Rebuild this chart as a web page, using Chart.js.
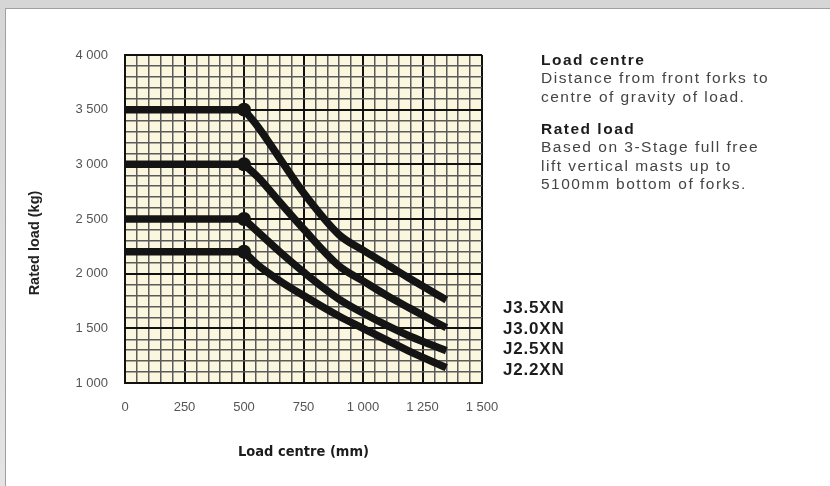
<!DOCTYPE html>
<html>
<head>
<meta charset="utf-8">
<script src="https://cdn.jsdelivr.net/npm/chart.js@4"></script>
<style>
  html, body { margin: 0; padding: 0; }
  body { width: 830px; height: 486px; position: relative; overflow: hidden;
         background: linear-gradient(#d6d6d6, #e4e4e4); font-family: "Liberation Sans", Arial, sans-serif; }
  #sheet { position: absolute; left: 5px; top: 8px; right: 0; bottom: 0; background: #fff;
           border-left: 1px solid #a0a0a0; border-top: 1px solid #a0a0a0; }
  #wrap { position: absolute; left: 0; top: 0; width: 830px; height: 486px; }
  .notes { position: absolute; left: 541px; top: 50px; font-size: 15.5px; letter-spacing: 1.5px;
           color: #444; line-height: 18.5px; }
  .notes b { color: #1c1c1c; display: block; line-height: 19px; }
  .notes p { margin: 0 0 13px 0; }
  .models { position: absolute; left: 503px; top: 298px; font-size: 17px; font-weight: bold;
            letter-spacing: 0.8px; color: #1c1c1c; line-height: 20.5px; }
</style>
</head>
<body>
<div id="sheet"></div>
<div id="wrap"><canvas id="myChart" width="830" height="486"></canvas></div>
<div class="notes">
  <p><b>Load centre</b>Distance from front forks to<br>centre of gravity of load.</p>
  <p><b>Rated load</b>Based on 3-Stage full free<br>lift vertical masts up to<br>5100mm bottom of forks.</p>
</div>
<div class="models" id="models"></div>
<script>
const ctx = document.getElementById("myChart")

const loadCentre = [0, 500, 560, 650, 750, 900, 1000, 1100, 1200, 1350];
const j35 = [3500, 3500, 3340, 3055, 2740, 2355, 2215, 2084, 1951, 1760];
const j30 = [3000, 3000, 2880, 2655, 2410, 2070, 1934, 1800, 1680, 1505];
const j25 = [2500, 2500, 2378, 2200, 2015, 1765, 1640, 1527, 1425, 1295];
const j22 = [2200, 2200, 2075, 1935, 1800, 1610, 1500, 1392, 1285, 1140];
const models = ["J3.5XN", "J3.0XN", "J2.5XN", "J2.2XN"];
const series = [j35, j30, j25, j22];
const xTickLabels = [0, 250, 500, 750, 1000, 1250, 1500];
const yTickLabels = [1000, 1500, 2000, 2500, 3000, 3500, 4000];

const fmt = (v) => String(v).replace(/\B(?=(\d{3})+(?!\d))/g, " ");
const toPoints = (s) => s.map((y, k) => ({ x: loadCentre[k], y: y }));

document.getElementById("models").innerHTML = models.join("<br>");

const paper = {
  id: "paper",
  beforeDraw: (chart) => {
    const a = chart.chartArea;
    chart.ctx.save();
    chart.ctx.fillStyle = "#fbf6de";
    chart.ctx.fillRect(a.left, a.top, a.right - a.left, a.bottom - a.top);
    chart.ctx.restore();
  },
  afterDraw: (chart) => {
    const c = chart.ctx;
    c.save();
    c.translate(35, 243);
    c.rotate(-Math.PI / 2);
    c.font = "bold 14.5px 'Liberation Sans', Arial, sans-serif";
    c.fillStyle = "#222";
    c.textAlign = "center";
    c.textBaseline = "middle";
    c.fillText("Rated load (kg)", 0, 0);
    c.restore();
  }
};

const lineStyle = {
  borderColor: "#141414",
  backgroundColor: "#141414",
  borderWidth: 7.5,
  borderJoinStyle: "round",
  borderCapStyle: "butt",
  pointBackgroundColor: "#141414",
  pointBorderWidth: 0
};

// flat part up to 500 mm, then the curved derating part
const datasets = [];
series.forEach((s, i) => {
  const pts = toPoints(s);
  datasets.push(Object.assign({}, lineStyle, {
    label: models[i] + " flat",
    data: pts.slice(0, 2),
    tension: 0,
    pointRadius: 0
  }));
  datasets.push(Object.assign({}, lineStyle, {
    label: models[i],
    data: pts.slice(1),
    cubicInterpolationMode: "monotone",
    pointRadius: pts.slice(1).map((p, k) => k === 0 ? 7 : 0),
    pointHoverRadius: 0
  }));
});

const chart = new Chart(ctx, {
  type: "line",
  data: { datasets: datasets },
  plugins: [paper],
  options: {
    responsive: false,
    animation: false,
    layout: { padding: { left: 0, top: 55, right: 348, bottom: 0 } },
    plugins: {
      legend: { display: false },
      tooltip: { enabled: false }
    },
    scales: {
      x: {
        type: "linear",
        min: 0,
        max: 1500,
        afterFit: (scale) => { scale.height = 103; },
        border: { display: true, color: "#111", width: 2 },
        grid: {
          drawTicks: false,
          color: (c) => (c.tick && c.tick.value % 250 === 0) ? "#111" : "#5a5a5a",
          lineWidth: (c) => (c.tick && c.tick.value % 250 === 0) ? 2 : 1.5
        },
        ticks: {
          stepSize: 50,
          autoSkip: false,
          maxRotation: 0,
          padding: 17,
          color: "#555",
          font: { family: "'Liberation Sans', Arial, sans-serif", size: 13 },
          callback: (v) => xTickLabels.includes(v) ? fmt(v) : ""
        },
        title: {
          display: true,
          text: "Load centre (mm)",
          color: "#1c1c1c",
          font: { family: "'DejaVu Sans Condensed', 'Liberation Sans', sans-serif", size: 14.5, weight: "bold" },
          padding: { top: 4, bottom: 25 }
        }
      },
      y: {
        type: "linear",
        min: 1000,
        max: 4000,
        afterFit: (scale) => { scale.width = 125; },
        border: { display: true, color: "#111", width: 2 },
        grid: {
          drawTicks: false,
          color: (c) => (c.tick && c.tick.value % 500 === 0) ? "#111" : "#5a5a5a",
          lineWidth: (c) => (c.tick && c.tick.value % 500 === 0) ? 2 : 1.5
        },
        ticks: {
          stepSize: 100,
          autoSkip: false,
          padding: 17,
          color: "#555",
          font: { family: "'Liberation Sans', Arial, sans-serif", size: 13 },
          callback: (v) => yTickLabels.includes(v) ? fmt(v) : ""
        }
      }
    }
  }
})
</script>
</body>
</html>
